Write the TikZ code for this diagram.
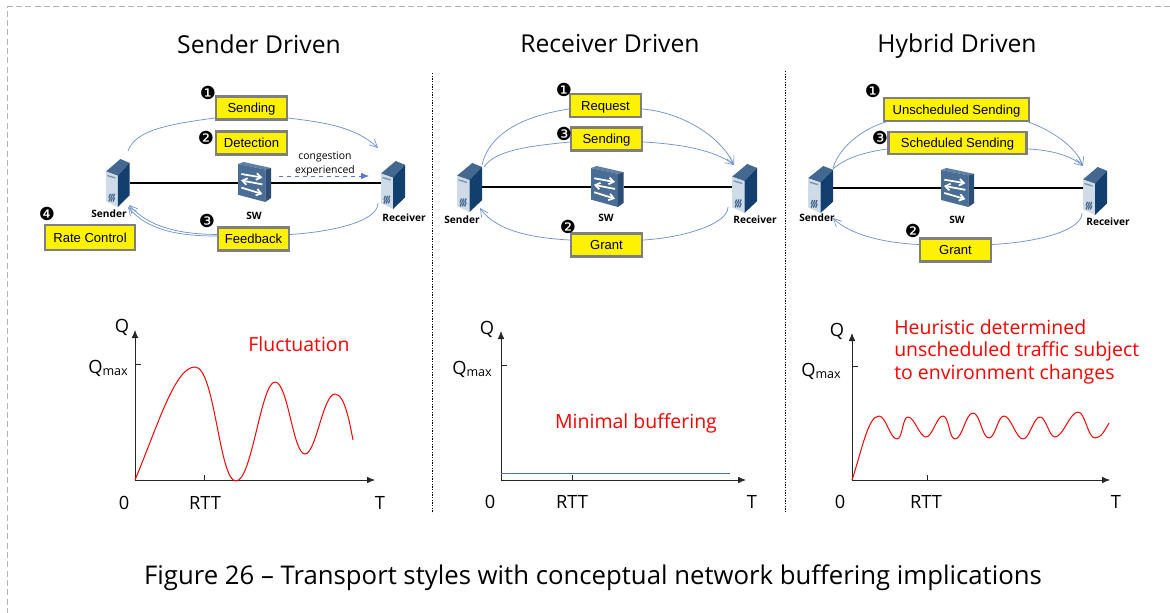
\documentclass[tikz,border=0pt]{standalone}
\usepackage{fontspec}
\setmainfont{Open Sans}
\newfontfamily\boxfont{Liberation Sans}
\newfontfamily\symfont{DejaVu Sans}
\usetikzlibrary{arrows.meta}
\definecolor{linkblue}{HTML}{6F93D2}
\definecolor{flatblue}{HTML}{4472C4}
\definecolor{boxgray}{HTML}{7F7F7F}
\definecolor{srvfront}{HTML}{CFDBE6}
\definecolor{srvside}{HTML}{123F6D}
\definecolor{srvtop}{HTML}{44688F}
\definecolor{swfront}{HTML}{4A6D95}
\definecolor{swside}{HTML}{2C4E75}
\definecolor{swtop}{HTML}{5F80A6}
\definecolor{heat}{HTML}{FF0000}
\tikzset{
  labelbox/.style={draw=boxgray,fill=yellow,line width=1.7pt,inner sep=0pt,text height=9pt,text depth=2pt,font=\boxfont\fontsize{9.8}{11}\selectfont,text=black},
  link/.style={draw=linkblue,line width=.55pt},
  linkarrow/.style={link,-{Straight Barb[length=6pt,width=6pt,line width=.5pt]}},
  bullet/.style={inner sep=0pt,font=\symfont\fontsize{13.5}{14}\selectfont},
  wire/.style={draw=black,line width=1.3pt},
  devlabel/.style={inner sep=0pt,font=\fontsize{7.6}{8}\selectfont\bfseries},
  axis/.style={draw=black!85,line width=.6pt,-{Latex[length=6pt,width=5pt]}},
  tick/.style={draw=black!85,line width=.5pt},
  axlabel/.style={inner sep=0pt,anchor=base,font=\fontsize{13.7}{15}\selectfont},
  curve/.style={draw=heat,line width=.75pt,line join=round},
  redtext/.style={inner sep=0pt,anchor=base,text=heat,font=\fontsize{14.6}{17}\selectfont},
  title/.style={inner sep=0pt,anchor=base,font=\fontsize{18.5}{20}\selectfont},
  divider/.style={draw=black,line width=.6pt,dash pattern=on .9pt off 1.1pt},
}
\newcommand{\qmaxlabel}{Q\raisebox{-2.2pt}{\fontsize{9.4}{10}\selectfont max}}
% #1 name, #2 x-left, #3 y-top, #4 width, #5 height
\newcommand{\serverbox}[5]{%
  \node[minimum width=#4*.75pt,minimum height=#5*.75pt,inner sep=0pt,outer sep=0pt] (#1) at (#2+#4/2,#3+#5/2) {};
  \begin{scope}[shift={(#2,#3)},x=#4*.75pt,y=-#5*.75pt]
    \fill[srvtop] (0,.26)--(.61,0)--(1,.08)--(.5,.35)--cycle;
    \fill[srvfront] (0,.26)--(.5,.35)--(.5,1)--(0,.88)--cycle;
    \fill[srvside] (.5,.35)--(1,.08)--(1,.76)--(.5,1)--cycle;
    \fill[srvtop!70!white] (.06,.33)--(.4,.38)--(.4,.41)--(.06,.36)--cycle;
    \foreach \d in {0,.09,.18}{
      \fill[srvtop] (.1+\d,.80)--(.16+\d,.72)--(.21+\d,.73)--(.15+\d,.81)--cycle;
      \fill[srvtop] (.1+\d,.88)--(.16+\d,.80)--(.21+\d,.81)--(.15+\d,.89)--cycle;
    }
  \end{scope}}
\newcommand{\switchbox}[5]{%
  \node[minimum width=#4*.75pt,minimum height=#5*.75pt,inner sep=0pt,outer sep=0pt] (#1) at (#2+#4/2,#3+#5/2) {};
  \begin{scope}[shift={(#2,#3)},x=#4*.75pt,y=-#5*.75pt]
    \fill[swtop] (0,.05)--(.17,0)--(1,.15)--(.83,.19)--cycle;
    \fill[swfront] (0,.05)--(.83,.19)--(.83,1)--(0,.82)--cycle;
    \fill[swside] (.83,.19)--(1,.15)--(1,.9)--(.83,1)--cycle;
    \draw[white,line width=1.3pt,-{Straight Barb[length=3.5pt,width=5pt]}] (.10,.30)--(.74,.39);
    \draw[white,line width=1.3pt,-{Straight Barb[length=3.5pt,width=5pt]}] (.74,.56)--(.09,.46);
    \draw[white,line width=1.3pt,-{Straight Barb[length=3.5pt,width=5pt]}] (.10,.64)--(.74,.80);
  \end{scope}}
\begin{document}
\begin{tikzpicture}[x=.75pt,y=-.75pt]
\useasboundingbox (0,0) rectangle (1170,613);
\fill[white] (0,0) rectangle (1170,613);
% frame
\draw[draw=black!30,line width=.75pt,dash pattern=on 4.5pt off 2.5pt] (1170,7)--(7,7)--(7,613);
% dividers
\draw[divider] (432,73)--(432,513);
\draw[divider] (785,71)--(785,513);
% titles
\node[title] (t1) at (259,54) {Sender Driven};
\node[title] (t2) at (610,53) {Receiver Driven};
\node[title] (t3) at (957,53) {Hybrid Driven};
\node[inner sep=0pt,anchor=base,font=\fontsize{19.3}{22}\selectfont] (cap) at (593,584) {Figure 26 – Transport styles with conceptual network buffering implications};

% ---------- panel 1
\serverbox{sa}{106}{159}{23.5}{48}
\serverbox{ra}{381}{161}{24}{48}
\switchbox{wa}{238}{162}{33}{40}
\draw[wire] (sa.east |- 0,183) coordinate (saw) -- (wa.west |- saw);
\draw[wire] (wa.east |- saw) -- (ra.west |- saw);
\node[devlabel] (sal) at (109,214) {Sender};
\node[devlabel] (wal) at (254,216) {SW};
\node[devlabel] (ral) at (404,218) {Receiver};
\node[labelbox,minimum width=71pt*.75,minimum height=23pt*.75] (ba1) at (251.5,108) {Sending};
\node[labelbox,minimum width=71pt*.75,minimum height=23pt*.75] (ba2) at (251.5,143) {Detection};
\node[labelbox,minimum width=71pt*.75,minimum height=23pt*.75] (ba3) at (253.5,239) {Feedback};
\node[labelbox,minimum width=90pt*.75,minimum height=25pt*.75] (ba4) at (90,237.5) {Rate Control};
\node[bullet] (na1) at (208,93) {❶};
\node[bullet] (na2) at (206,138) {❷};
\node[bullet] (na3) at (207,221) {❸};
\node[bullet] (na4) at (47,214) {❹};
\coordinate (a1) at (128,151);
\coordinate (a2) at (378,148);
\coordinate (a3) at (378,203);
\coordinate (a4) at (129,205);
\coordinate (a5) at (128,207);
\draw[link] (a1) .. controls (135,130) and (170,124) .. (ba1.west|-0,118) coordinate (xa);
\draw[linkarrow] (ba1.east|-xa) .. controls (320,122) and (355,126) .. (a2);
\draw[link] (a3) .. controls (378,222) and (330,232) .. (ba3.east|-0,234.5) coordinate (xb);
\draw[linkarrow] (ba3.west|-xb) .. controls (180,234) and (150,228) .. (a4);
\draw[linkarrow] (ba3.west|-0,236) .. controls (180,236) and (148,231) .. (a5);
\coordinate (ca) at (279,176);
\coordinate (cb) at (369,176);
\draw[draw=linkblue!80!blue,line width=.6pt,dashed,-{Latex[length=6pt,width=5pt]}] (ca) -- (cb);
\node[inner sep=0pt,align=center,font=\fontsize{7.8}{10.6}\selectfont] (cong) at (325,163.5) {congestion\\experienced};

% ---------- panel 2
\serverbox{sb}{457}{163}{25}{49}
\serverbox{rb}{732}{164}{25}{49}
\switchbox{wb}{591}{166}{32.5}{41}
\draw[wire] (sb.east |- 0,187) coordinate (sbw) -- (wb.west |- sbw);
\draw[wire] (wb.east |- sbw) -- (rb.west |- sbw);
\node[devlabel] (sbl) at (462,220) {Sender};
\node[devlabel] (wbl) at (606,218) {SW};
\node[devlabel] (rbl) at (755,220) {Receiver};
\node[labelbox,minimum width=71pt*.75,minimum height=23pt*.75] (bb1) at (605.5,105.5) {Request};
\node[labelbox,minimum width=71pt*.75,minimum height=23pt*.75] (bb3) at (606.5,139) {Sending};
\node[labelbox,minimum width=71pt*.75,minimum height=23pt*.75] (bb2) at (606.5,245) {Grant};
\node[bullet] (nb1) at (564,90) {❶};
\node[bullet] (nb3) at (564,134) {❸};
\node[bullet] (nb2) at (568,227) {❷};
\coordinate (b1) at (482,165);
\coordinate (b2) at (734,165);
\coordinate (b3) at (484,167);
\coordinate (b4) at (728,207);
\coordinate (b5) at (480,208);
\draw[link] (b1) .. controls (490,130) and (530,115) .. (bb1.west|-0,109) coordinate (xc);
\draw[linkarrow] (bb1.east|-xc) .. controls (680,112) and (720,135) .. (b2);
\draw[link] (b3) .. controls (495,150) and (530,146) .. (bb3.west|-0,142) coordinate (xd);
\draw[linkarrow] (bb3.east|-xd) .. controls (680,144) and (715,150) .. (b2);
\draw[link] (b4) .. controls (728,225) and (680,238) .. (bb2.east|-0,240) coordinate (xe);
\draw[linkarrow] (bb2.west|-xe) .. controls (530,238) and (495,230) .. (b5);

% ---------- panel 3
\serverbox{sc}{808}{166}{25}{47}
\serverbox{rc}{1083}{167}{24}{48}
\switchbox{wc}{941}{168}{33}{39}
\draw[wire] (sc.east |- 0,188) coordinate (scw) -- (wc.west |- scw);
\draw[wire] (wc.east |- scw) -- (rc.west |- scw);
\node[devlabel] (scl) at (817,218) {Sender};
\node[devlabel] (wcl) at (957,220) {SW};
\node[devlabel] (rcl) at (1108,222) {Receiver};
\node[labelbox,minimum width=145pt*.75,minimum height=22.5pt*.75] (bc1) at (956.5,109.5) {Unscheduled Sending};
\node[labelbox,minimum width=138pt*.75,minimum height=21.5pt*.75] (bc3) at (957.5,143) {Scheduled Sending};
\node[labelbox,minimum width=71pt*.75,minimum height=23pt*.75] (bc2) at (955.5,250) {Grant};
\node[bullet] (nc1) at (873,91) {❶};
\node[bullet] (nc3) at (880,138) {❸};
\node[bullet] (nc2) at (913,231) {❷};
\coordinate (c1) at (833,168);
\coordinate (c2) at (1083,166);
\coordinate (c3) at (833,169);
\coordinate (c4) at (1082,213);
\coordinate (c5) at (833,218);
\draw[link] (c1) .. controls (840,145) and (865,128) .. ([xshift=2.5pt]bc1.south west);
\draw[linkarrow] ([xshift=-1.5pt]bc1.south east) .. controls (1050,130) and (1075,145) .. (c2);
\draw[link] (c3) .. controls (845,158) and (865,152) .. (bc3.west|-0,149) coordinate (xf);
\draw[linkarrow] (bc3.east|-xf) .. controls (1050,150) and (1070,155) .. (c2);
\draw[link] (c4) .. controls (1082,230) and (1040,242) .. (bc2.east|-0,244.5) coordinate (xg);
\draw[linkarrow] (bc2.west|-xg) .. controls (885,243) and (850,235) .. (c5);

% ---------- chart 1
\coordinate (oa) at (135,480);
\coordinate (ya) at (135,330);
\coordinate (xa2) at (375,480);
\draw[axis] (oa) -- (ya);
\draw[axis] (oa) -- (xa2);
\draw[tick] (oa|-0,364) coordinate (qa) -- (141,364);
\draw[tick] (204,480) -- (204,475);
\node[axlabel] (la1) at (122,332) {Q};
\node[axlabel] (la2) at (108,373) {\qmaxlabel};
\node[axlabel] (la3) at (124,509) {0};
\node[axlabel] (la4) at (205,509) {RTT};
\node[axlabel] (la5) at (380,509) {T};
\node[redtext] (la6) at (299,351) {Fluctuation};
\draw[curve] (oa) .. controls (158,425) and (175,367) .. (195,367)
  .. controls (215,367) and (219,481) .. (236,481)
  .. controls (252,481) and (261,382) .. (275,382)
  .. controls (288,382) and (293,454) .. (305,454)
  .. controls (316,454) and (323,394) .. (335,394)
  .. controls (345,394) and (350,425) .. (353,440);

% ---------- chart 2
\coordinate (ob) at (501,480);
\coordinate (yb) at (501,331);
\coordinate (xb2) at (746,480);
\draw[axis] (ob) -- (yb);
\draw[axis] (ob) -- (xb2);
\draw[tick] (ob|-0,365) -- (507,365);
\draw[tick] (572,480) -- (572,475);
\node[axlabel] (lb1) at (487,334) {Q};
\node[axlabel] (lb2) at (472,374) {\qmaxlabel};
\node[axlabel] (lb3) at (490,508) {0};
\node[axlabel] (lb4) at (572,508) {RTT};
\node[axlabel] (lb5) at (752,508) {T};
\node[redtext] (lb6) at (636,428) {Minimal buffering};
\draw[draw=flatblue,line width=.75pt] (ob|-0,473) -- (730,473);

% ---------- chart 3
\coordinate (oc) at (852,480);
\coordinate (yc) at (852,333);
\coordinate (xc2) at (1110,480);
\draw[axis] (oc) -- (yc);
\draw[axis] (oc) -- (xc2);
\draw[tick] (oc|-0,366) -- (858,366);
\draw[tick] (927,480) -- (927,475);
\node[axlabel] (lc1) at (837,336) {Q};
\node[axlabel] (lc2) at (821,376) {\qmaxlabel};
\node[axlabel] (lc3) at (840,508) {0};
\node[axlabel] (lc4) at (926,508) {RTT};
\node[axlabel] (lc5) at (1116,508) {T};
\node[text=heat,inner sep=0pt,align=left,anchor=north west,font=\fontsize{14.6}{17.1}\selectfont] (lc6) at (894,319) {Heuristic determined\\unscheduled traffic subject\\to environment changes};
\draw[curve,looseness=.6] (oc) .. controls (862,450) and (868,416) .. (879,416)
  to[out=0,in=180] (897,439) to[out=0,in=180] (908,417) to[out=0,in=180] (926,437)
  to[out=0,in=180] (943,416) to[out=0,in=180] (955,439) to[out=0,in=180] (973,413)
  to[out=0,in=180] (989,438) to[out=0,in=180] (1004,416) to[out=0,in=180] (1023,439)
  to[out=0,in=180] (1040,417) to[out=0,in=180] (1055,437) to[out=0,in=180] (1078,412)
  to[out=0,in=180] (1095,438) .. controls (1101,438) and (1105,430) .. (1109,423);
\end{tikzpicture}
\end{document}
